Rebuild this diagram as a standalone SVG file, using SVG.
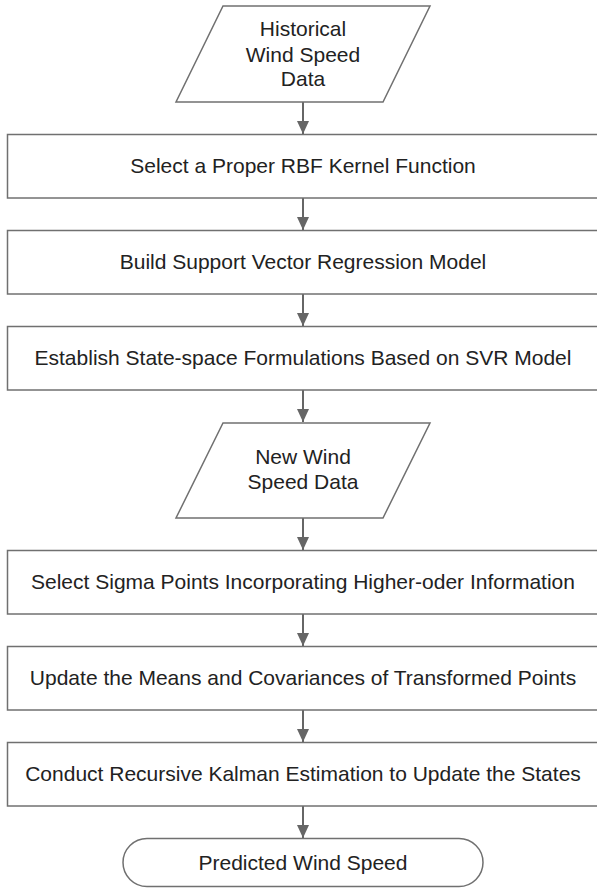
<svg xmlns="http://www.w3.org/2000/svg" width="597" height="888" viewBox="0 0 597 888">
<style>
.s{fill:#fff;stroke:#707070;stroke-width:1.5}
.t{font-family:"Liberation Sans",Arial,sans-serif;font-size:21px;fill:#222;text-anchor:middle}
.c{stroke:#666;stroke-width:2;fill:none;marker-end:url(#ah)}
</style>
<defs>
<marker id="ah" markerUnits="userSpaceOnUse" markerWidth="13" markerHeight="12" refX="13" refY="6" orient="auto" viewBox="0 0 13 12">
<path d="M0,0 L13,6 L0,12 Z" fill="#666"/>
</marker>
</defs>
<g id="connectors">
<line class="c" x1="303" y1="102" x2="303" y2="134"/>
<line class="c" x1="303" y1="198" x2="303" y2="230"/>
<line class="c" x1="303" y1="294" x2="303" y2="326"/>
<line class="c" x1="303" y1="390" x2="303" y2="422"/>
<line class="c" x1="303" y1="518" x2="303" y2="550"/>
<line class="c" x1="303" y1="614" x2="303" y2="646"/>
<line class="c" x1="303" y1="710" x2="303" y2="742"/>
<line class="c" x1="303" y1="806" x2="303" y2="838"/>
</g>
<g id="n1"><polygon class="s" points="223,6 430,6 383,102 176,102"/>
<text class="t" x="303" y="36">Historical</text><text class="t" x="303" y="62">Wind Speed</text><text class="t" x="303" y="86">Data</text></g>
<g id="n2"><rect class="s" x="7.5" y="134.5" width="592" height="63.5"/><text class="t" x="303" y="173">Select a Proper RBF Kernel Function</text></g>
<g id="n3"><rect class="s" x="7.5" y="230.5" width="592" height="63.5"/><text class="t" x="303" y="269">Build Support Vector Regression Model</text></g>
<g id="n4"><rect class="s" x="7.5" y="326.5" width="592" height="63.5"/><text class="t" x="303" y="365">Establish State-space Formulations Based on SVR Model</text></g>
<g id="n5"><polygon class="s" points="223,423 430,423 383,518 176,518"/>
<text class="t" x="303" y="464">New Wind</text><text class="t" x="303" y="489">Speed Data</text></g>
<g id="n6"><rect class="s" x="7.5" y="550.5" width="592" height="63.5"/><text class="t" x="303" y="589">Select Sigma Points Incorporating Higher-oder Information</text></g>
<g id="n7"><rect class="s" x="7.5" y="646.5" width="592" height="63.5"/><text class="t" x="303" y="685">Update the Means and Covariances of Transformed Points</text></g>
<g id="n8"><rect class="s" x="7.5" y="742.5" width="592" height="63.5"/><text class="t" x="303" y="781">Conduct Recursive Kalman Estimation to Update the States</text></g>
<g id="n9"><rect class="s" x="123" y="838.5" width="360" height="48" rx="24" ry="24"/><text class="t" x="303" y="870">Predicted Wind Speed</text></g>
</svg>
